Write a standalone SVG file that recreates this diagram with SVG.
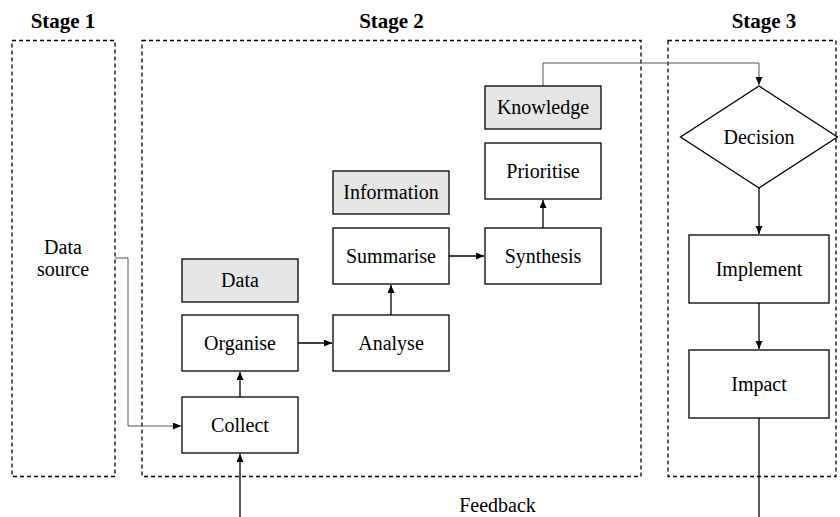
<svg xmlns="http://www.w3.org/2000/svg" width="840" height="517" viewBox="0 0 840 517">
  <style>
    .stage { fill: none; stroke: #000; stroke-width: 1.3; stroke-dasharray: 4 3; }
    .box { fill: #fff; stroke: #000; stroke-width: 1.3; }
    .tag { fill: #e6e6e6; stroke: #000; stroke-width: 1.3; }
    .head { font-family: "Liberation Serif", "Times New Roman", serif; font-size: 21px; font-weight: bold; text-anchor: middle; fill: #000; }
    .lbl { font-family: "Liberation Serif", "Times New Roman", serif; font-size: 20px; text-anchor: middle; fill: #000; }
    .flow { fill: none; stroke: #000; stroke-width: 1.3; }
    .thin { fill: none; stroke: #555; stroke-width: 1; }
  </style>
  <defs>
    <marker id="arrow" markerUnits="userSpaceOnUse" markerWidth="9" markerHeight="8" refX="8" refY="3.5" orient="auto">
      <path d="M0,0 L8,3.5 L0,7 z" fill="#000"/>
    </marker>
  </defs>

  <rect width="840" height="517" fill="#fff"/>

  <!-- stage frames -->
  <g id="stage1">
    <rect class="stage" x="12" y="40.5" width="103" height="436"/>
    <text class="head" x="63" y="28">Stage 1</text>
    <text class="lbl" x="63" y="254">Data</text>
    <text class="lbl" x="63" y="276">source</text>
  </g>
  <g id="stage2">
    <rect class="stage" x="142" y="40.5" width="499" height="436"/>
    <text class="head" x="391.5" y="28">Stage 2</text>
  </g>
  <g id="stage3">
    <rect class="stage" x="668" y="40.5" width="168" height="436"/>
    <text class="head" x="764" y="28">Stage 3</text>
  </g>

  <!-- connectors -->
  <g id="connectors">
    <path class="thin" d="M115,258 H128 V426 H181" marker-end="url(#arrow)"/>
    <path class="flow" d="M240,397 V372" marker-end="url(#arrow)"/>
    <path class="flow" d="M298,343 H332" marker-end="url(#arrow)"/>
    <path class="flow" d="M391,315 V285" marker-end="url(#arrow)"/>
    <path class="flow" d="M449,256 H484" marker-end="url(#arrow)"/>
    <path class="flow" d="M543,228 V200" marker-end="url(#arrow)"/>
    <path class="thin" d="M543,86 V63 H759 V85" marker-end="url(#arrow)"/>
    <path class="flow" d="M759,188 V234" marker-end="url(#arrow)"/>
    <path class="flow" d="M759,303 V349" marker-end="url(#arrow)"/>
    <path class="flow" d="M759,418 V517"/>
    <path class="flow" d="M240,517 V454" marker-end="url(#arrow)"/>
  </g>

  <!-- stage 2 nodes -->
  <g id="data">
    <rect class="tag" x="182" y="259" width="116" height="43"/>
    <text class="lbl" x="240" y="287">Data</text>
  </g>
  <g id="organise">
    <rect class="box" x="182" y="315" width="116" height="56"/>
    <text class="lbl" x="240" y="350">Organise</text>
  </g>
  <g id="collect">
    <rect class="box" x="182" y="397" width="116" height="56"/>
    <text class="lbl" x="240" y="432">Collect</text>
  </g>
  <g id="analyse">
    <rect class="box" x="333" y="315" width="116" height="56"/>
    <text class="lbl" x="391" y="350">Analyse</text>
  </g>
  <g id="information">
    <rect class="tag" x="333" y="171" width="116" height="43"/>
    <text class="lbl" x="391" y="199">Information</text>
  </g>
  <g id="summarise">
    <rect class="box" x="333" y="228" width="116" height="56"/>
    <text class="lbl" x="391" y="263">Summarise</text>
  </g>
  <g id="synthesis">
    <rect class="box" x="485" y="228" width="116" height="56"/>
    <text class="lbl" x="543" y="263">Synthesis</text>
  </g>
  <g id="prioritise">
    <rect class="box" x="485" y="143" width="116" height="56"/>
    <text class="lbl" x="543" y="178">Prioritise</text>
  </g>
  <g id="knowledge">
    <rect class="tag" x="485" y="86" width="116" height="43"/>
    <text class="lbl" x="543" y="114">Knowledge</text>
  </g>

  <!-- stage 3 nodes -->
  <g id="decision">
    <polygon class="box" points="759,86 837.5,137 759,188 680.5,137"/>
    <text class="lbl" x="759" y="144">Decision</text>
  </g>
  <g id="implement">
    <rect class="box" x="689" y="235" width="140" height="68"/>
    <text class="lbl" x="759" y="276">Implement</text>
  </g>
  <g id="impact">
    <rect class="box" x="689" y="350" width="140" height="68"/>
    <text class="lbl" x="759" y="391">Impact</text>
  </g>

  <text id="feedback" class="lbl" x="497.5" y="512">Feedback</text>
</svg>
